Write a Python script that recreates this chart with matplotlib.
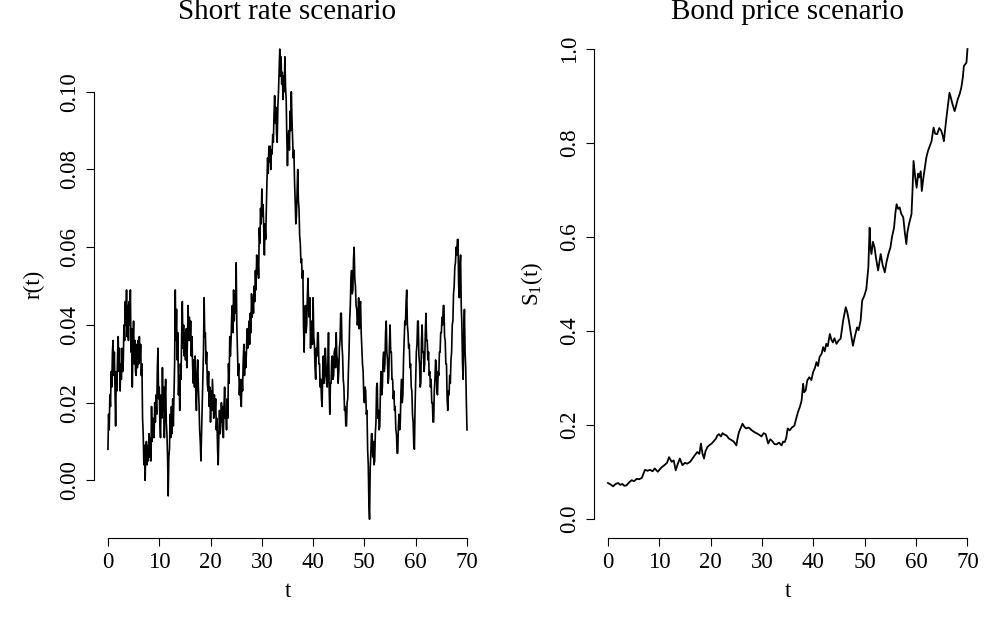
import numpy as np
import matplotlib
matplotlib.use("Agg")
import matplotlib.pyplot as plt

plt.rcParams["font.family"] = ["Liberation Serif", "DejaVu Serif"]
plt.rcParams["mathtext.fontset"] = "custom"
plt.rcParams["mathtext.rm"] = "Liberation Serif"
plt.rcParams["mathtext.it"] = "Liberation Serif:italic"

# ---------- DATA ----------
# short rate r(t), sampled every 0.125 years from t=0 to t=70 (one row per year)
short_rate = [
    0.008, 0.017, 0.013, 0.022, 0.019, 0.028, 0.024, 0.033,   # 0
    0.036, 0.027, 0.033, 0.024, 0.014, 0.028, 0.023, 0.032,   # 1
    0.037, 0.028, 0.034, 0.023, 0.030, 0.026, 0.034, 0.028,   # 2
    0.031, 0.040, 0.036, 0.046, 0.040, 0.049, 0.037, 0.045,   # 3
    0.036, 0.046, 0.040, 0.049, 0.033, 0.039, 0.024, 0.036,   # 4
    0.041, 0.030, 0.036, 0.028, 0.027, 0.035, 0.029, 0.036,   # 5
    0.030, 0.037, 0.031, 0.035, 0.027, 0.030, 0.016, 0.012,   # 6
    0.004, 0.009, 0.000, 0.008, 0.010, 0.004, 0.009, 0.005,   # 7
    0.012, 0.006, 0.011, 0.005, 0.019, 0.010, 0.016, 0.012,   # 8
    0.011, 0.020, 0.015, 0.022, 0.017, 0.028, 0.034, 0.021,   # 9
    0.024, 0.015, 0.011, 0.022, 0.016, 0.029, 0.018, 0.024,   # 10
    0.011, 0.021, 0.026, 0.015, 0.012, 0.006, -0.004, 0.006,  # 11
    0.008, 0.017, 0.011, 0.019, 0.012, 0.021, 0.014, 0.022,   # 12
    0.030, 0.049, 0.036, 0.044, 0.031, 0.038, 0.022, 0.027,   # 13
    0.018, 0.030, 0.026, 0.038, 0.046, 0.034, 0.040, 0.032,   # 14
    0.038, 0.031, 0.039, 0.029, 0.036, 0.045, 0.036, 0.042,   # 15
    0.036, 0.041, 0.032, 0.037, 0.030, 0.025, 0.031, 0.024,   # 16
    0.032, 0.023, 0.018, 0.027, 0.031, 0.024, 0.020, 0.013,   # 17
    0.010, 0.005, 0.012, 0.020, 0.025, 0.033, 0.047, 0.037,   # 18
    0.038, 0.030, 0.033, 0.025, 0.023, 0.028, 0.019, 0.024,   # 19
    0.015, 0.023, 0.018, 0.026, 0.021, 0.016, 0.022, 0.017,   # 20
    0.021, 0.013, 0.016, 0.008, 0.004, 0.012, 0.018, 0.012,   # 21
    0.014, 0.020, 0.015, 0.019, 0.011, 0.019, 0.024, 0.016,   # 22
    0.017, 0.013, 0.021, 0.016, 0.030, 0.025, 0.037, 0.032,   # 23
    0.036, 0.042, 0.045, 0.038, 0.049, 0.041, 0.048, 0.043,   # 24
    0.056, 0.040, 0.033, 0.027, 0.030, 0.022, 0.026, 0.021,   # 25
    0.019, 0.026, 0.023, 0.031, 0.035, 0.027, 0.033, 0.029,   # 26
    0.033, 0.039, 0.034, 0.037, 0.041, 0.035, 0.043, 0.038,   # 27
    0.048, 0.042, 0.047, 0.043, 0.050, 0.046, 0.054, 0.049,   # 28
    0.058, 0.053, 0.057, 0.052, 0.065, 0.061, 0.070, 0.066,   # 29
    0.075, 0.068, 0.071, 0.064, 0.058, 0.066, 0.062, 0.070,   # 30
    0.077, 0.083, 0.079, 0.086, 0.082, 0.086, 0.080, 0.085,   # 31
    0.084, 0.089, 0.087, 0.094, 0.099, 0.092, 0.096, 0.089,   # 32
    0.087, 0.096, 0.100, 0.106, 0.111, 0.104, 0.109, 0.102,   # 33
    0.105, 0.098, 0.104, 0.100, 0.109, 0.101, 0.098, 0.088,   # 34
    0.081, 0.088, 0.090, 0.085, 0.095, 0.090, 0.100, 0.093,   # 35
    0.088, 0.083, 0.085, 0.077, 0.072, 0.066, 0.068, 0.074,   # 36
    0.080, 0.072, 0.070, 0.063, 0.061, 0.056, 0.057, 0.052,   # 37
    0.054, 0.040, 0.033, 0.042, 0.045, 0.038, 0.040, 0.047,   # 38
    0.052, 0.044, 0.042, 0.047, 0.034, 0.041, 0.040, 0.035,   # 39
    0.047, 0.037, 0.035, 0.029, 0.026, 0.034, 0.032, 0.038,   # 40
    0.038, 0.030, 0.030, 0.024, 0.026, 0.021, 0.019, 0.028,   # 41
    0.032, 0.025, 0.027, 0.034, 0.030, 0.025, 0.024, 0.030,   # 42
    0.038, 0.024, 0.017, 0.025, 0.025, 0.031, 0.032, 0.026,   # 43
    0.027, 0.033, 0.034, 0.029, 0.038, 0.032, 0.031, 0.025,   # 44
    0.028, 0.034, 0.036, 0.043, 0.043, 0.035, 0.032, 0.026,   # 45
    0.024, 0.018, 0.019, 0.014, 0.014, 0.020, 0.021, 0.028,   # 46
    0.033, 0.041, 0.045, 0.052, 0.054, 0.048, 0.049, 0.057,   # 47
    0.060, 0.052, 0.050, 0.045, 0.044, 0.040, 0.042, 0.047,   # 48
    0.039, 0.045, 0.046, 0.038, 0.034, 0.030, 0.028, 0.022,   # 49
    0.020, 0.024, 0.023, 0.017, 0.018, 0.008, 0.004, -0.006,  # 50
    -0.010, 0.003, 0.007, 0.012, 0.012, 0.006, 0.010, 0.004,  # 51
    0.005, 0.012, 0.015, 0.024, 0.025, 0.016, 0.018, 0.013,   # 52
    0.014, 0.024, 0.028, 0.022, 0.024, 0.031, 0.033, 0.028,   # 53
    0.030, 0.038, 0.041, 0.033, 0.031, 0.025, 0.027, 0.035,   # 54
    0.040, 0.033, 0.033, 0.026, 0.026, 0.021, 0.023, 0.018,   # 55
    0.019, 0.013, 0.012, 0.007, 0.007, 0.014, 0.017, 0.013,   # 56
    0.015, 0.023, 0.026, 0.020, 0.022, 0.031, 0.036, 0.041,   # 57
    0.040, 0.046, 0.049, 0.040, 0.038, 0.034, 0.035, 0.029,   # 58
    0.030, 0.024, 0.023, 0.017, 0.015, 0.009, 0.008, 0.019,   # 59
    0.026, 0.033, 0.035, 0.041, 0.041, 0.032, 0.030, 0.024,   # 60
    0.025, 0.036, 0.040, 0.033, 0.033, 0.028, 0.030, 0.038,   # 61
    0.043, 0.036, 0.036, 0.031, 0.033, 0.027, 0.028, 0.024,   # 62
    0.026, 0.020, 0.020, 0.015, 0.015, 0.023, 0.026, 0.031,   # 63
    0.030, 0.023, 0.022, 0.028, 0.027, 0.033, 0.033, 0.038,   # 64
    0.038, 0.042, 0.040, 0.045, 0.045, 0.037, 0.036, 0.030,   # 65
    0.030, 0.021, 0.018, 0.023, 0.022, 0.027, 0.025, 0.031,   # 66
    0.033, 0.040, 0.041, 0.048, 0.050, 0.055, 0.056, 0.060,   # 67
    0.058, 0.062, 0.062, 0.050, 0.047, 0.055, 0.058, 0.045,   # 68
    0.040, 0.030, 0.026, 0.039, 0.044, 0.033, 0.029, 0.020,   # 69
    0.013,                                                    # 70
]
rate_t = np.linspace(0, 70, len(short_rate))

bond_t = [
    0.0, 0.5, 1.0, 1.5, 2.0, 2.4, 2.8, 3.2, 3.6, 4.1, 4.6, 5.1, 5.6, 6.1, 6.6,
    7.2, 7.7, 8.2, 8.7, 9.1, 9.7, 10.4, 11.0, 11.5, 11.9, 12.4, 12.8, 13.2,
    13.6, 14.0, 14.5, 15.0, 15.4, 16.0, 16.5, 16.9, 17.4, 17.8, 18.1, 18.4,
    18.7, 19.0, 19.4, 19.8, 20.2, 20.6, 21.0, 21.3, 21.6, 22.0, 22.3, 22.7,
    23.1, 23.5, 24.1, 24.5, 25.0, 25.2, 25.5, 25.9, 26.2, 26.6, 26.9, 27.4,
    27.9, 28.4, 28.9, 29.4, 29.9, 30.3, 30.7, 31.2, 31.6, 32.0, 32.4, 32.8,
    33.3, 33.8, 34.1, 34.4, 34.7, 35.0, 35.4, 35.8, 36.3, 36.6, 37.0, 37.4,
    37.7, 38.0, 38.2, 38.5, 38.8, 39.2, 39.6, 39.95, 40.3, 40.6, 40.9, 41.2,
    41.6, 41.9, 42.2, 42.5, 42.8, 43.2, 43.5, 43.8, 44.1, 44.5, 44.9, 45.3,
    45.8, 46.3, 46.6, 46.9, 47.3, 47.7, 48.1, 48.5, 48.8, 49.2, 49.5, 49.9,
    50.3, 50.7, 50.95, 51.1, 51.3, 51.6, 51.9, 52.2, 52.6, 52.9, 53.1, 53.5,
    53.9, 54.2, 54.6, 55.0, 55.3, 55.7, 56.0, 56.2, 56.5, 56.8, 57.1, 57.5,
    57.8, 58.1, 58.3, 58.6, 59.1, 59.3, 59.5, 59.8, 60.1, 60.4, 60.6, 60.9,
    61.1, 61.4, 61.7, 62.0, 62.3, 62.7, 63.0, 63.4, 63.7, 64.1, 64.5, 64.9,
    65.2, 65.4, 65.9, 66.2, 66.5, 66.8, 67.0, 67.5, 67.8, 68.1, 68.5, 68.8,
    69.1, 69.3, 69.6, 69.8, 70.0,
]
bond_price = [
    0.077, 0.074, 0.070, 0.075, 0.077, 0.073, 0.075, 0.071, 0.072, 0.078, 0.083,
    0.081, 0.086, 0.085, 0.088, 0.105, 0.103, 0.105, 0.102, 0.108, 0.101, 0.110,
    0.115, 0.120, 0.132, 0.122, 0.125, 0.104, 0.118, 0.129, 0.115, 0.120, 0.118,
    0.122, 0.130, 0.136, 0.143, 0.139, 0.161, 0.140, 0.129, 0.145, 0.154, 0.158,
    0.161, 0.166, 0.171, 0.178, 0.181, 0.176, 0.183, 0.180, 0.178, 0.172, 0.168,
    0.165, 0.157, 0.170, 0.185, 0.195, 0.203, 0.196, 0.193, 0.195, 0.190, 0.186,
    0.183, 0.180, 0.176, 0.183, 0.181, 0.161, 0.170, 0.166, 0.160, 0.159, 0.163,
    0.157, 0.165, 0.164, 0.172, 0.193, 0.189, 0.195, 0.199, 0.212, 0.228, 0.240,
    0.252, 0.288, 0.270, 0.274, 0.295, 0.302, 0.296, 0.313, 0.322, 0.334, 0.326,
    0.345, 0.352, 0.366, 0.357, 0.373, 0.368, 0.394, 0.382, 0.376, 0.385, 0.373,
    0.380, 0.384, 0.423, 0.451, 0.440, 0.423, 0.395, 0.369, 0.390, 0.408, 0.402,
    0.423, 0.465, 0.475, 0.489, 0.536, 0.620, 0.580, 0.564, 0.590, 0.578, 0.555,
    0.529, 0.550, 0.564, 0.540, 0.525, 0.545, 0.564, 0.578, 0.600, 0.620, 0.655,
    0.670, 0.660, 0.663, 0.650, 0.642, 0.610, 0.585, 0.610, 0.627, 0.649, 0.700,
    0.762, 0.730, 0.705, 0.735, 0.727, 0.740, 0.698, 0.725, 0.748, 0.770, 0.783,
    0.795, 0.804, 0.833, 0.820, 0.819, 0.832, 0.826, 0.815, 0.804, 0.854, 0.880,
    0.907, 0.895, 0.886, 0.868, 0.880, 0.893, 0.905, 0.918, 0.940, 0.964, 0.968,
    0.971, 1.000,
]

x_ticks = [0, 10, 20, 30, 40, 50, 60, 70]
rate_ticks = [0.00, 0.02, 0.04, 0.06, 0.08, 0.10]
bond_ticks = [0.0, 0.2, 0.4, 0.6, 0.8, 1.0]


def r_style(ax, yticks, yfmt):
    # R base-graphics look: no box, axis lines only between end ticks
    for s in ["top", "right"]:
        ax.spines[s].set_visible(False)
    ax.spines["left"].set_bounds(yticks[0], yticks[-1])
    ax.spines["bottom"].set_bounds(x_ticks[0], x_ticks[-1])
    for s in ["left", "bottom"]:
        ax.spines[s].set_linewidth(0.8)
    ax.set_xticks(x_ticks)
    ax.set_yticks(yticks)
    ax.set_yticklabels([yfmt.format(v) for v in yticks], rotation=90, va="center")
    ax.tick_params(direction="out", length=6, width=0.8, labelsize=16.5, pad=4)
    ax.set_xlim(-2.8, 72.8)


fig = plt.figure(figsize=(9.86, 6.17), dpi=100)

# A: short rate
ax1 = fig.add_axes([0.0949, 0.128, 0.3933, 0.823])
ax1.plot(rate_t, short_rate, color="black", lw=1.2)
r_style(ax1, rate_ticks, "{:.2f}")
lo, hi = min(short_rate), max(short_rate)
pad = 0.04 * (hi - lo)
ax1.set_ylim(lo - pad, hi + pad)
ax1.set_title("Short rate scenario", fontsize=21, pad=8)
ax1.set_xlabel("t", fontsize=16.5, labelpad=6)
ax1.set_ylabel("r(t)", fontsize=16.5, labelpad=10)

# B: bond price
ax2 = fig.add_axes([0.602, 0.128, 0.3938, 0.823])
ax2.plot(bond_t, bond_price, color="black", lw=1.3)
r_style(ax2, bond_ticks, "{:.1f}")
ax2.set_ylim(-0.04, 1.04)
ax2.set_title("Bond price scenario", fontsize=21, pad=8)
ax2.set_xlabel("t", fontsize=16.5, labelpad=6)
ax2.set_ylabel(r"$\mathrm{S}_1\mathrm{(t)}$", fontsize=16.5, labelpad=10)

fig.savefig("out.png", dpi=100)
plt.close(fig)
